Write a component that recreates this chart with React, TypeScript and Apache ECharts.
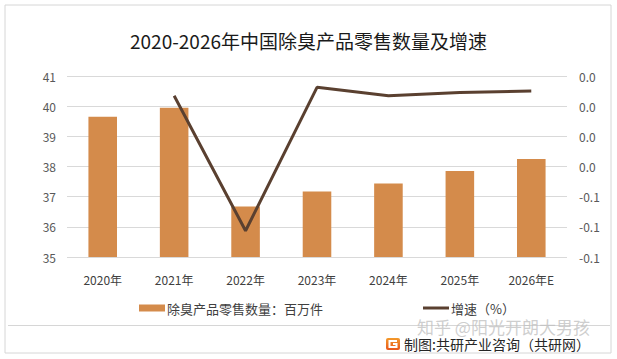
import React, { useEffect, useRef } from "react";
import * as echarts from "echarts";

const categories = ["2020年", "2021年", "2022年", "2023年", "2024年", "2025年", "2026年E"];
const salesVolume = [39.65, 39.95, 36.67, 37.17, 37.44, 37.85, 38.25];
const growthRate = [null, 0.0069, -0.0826, 0.0125, 0.0069, 0.0091, 0.01];
const rightTickLabels = ["-0.1", "-0.1", "-0.1", "0.0", "0.0", "0.0", "0.0"];

const FONT = "'Noto Sans CJK SC', 'Noto Sans', sans-serif";

export default function App() {
  const ref = useRef<HTMLDivElement>(null);
  useEffect(() => {
    if (!ref.current) return;
    const chart = echarts.init(ref.current, undefined, { renderer: "svg" });
    chart.setOption({
      animation: false,
      backgroundColor: "#ffffff",
      textStyle: { fontFamily: FONT },
      title: {
        text: "2020-2026年中国除臭产品零售数量及增速",
        left: "center",
        top: 26,
        textStyle: { fontSize: 19, fontWeight: "normal", color: "#1a1a1a", fontFamily: FONT },
      },
      grid: { left: 67, right: 50, top: 76, bottom: 102 },
      legend: {
        left: 134,
        top: 296,
        itemGap: 100,
        itemWidth: 26,
        itemHeight: 7,
        textStyle: { fontSize: 13, lineHeight: 14, color: "#404040", fontFamily: FONT, padding: [0, 0, 0, -3] },
        data: [
          { name: "除臭产品零售数量：百万件", icon: "rect" },
          { name: "增速（%）", icon: "path://M0,0 L26,0 L26,3 L0,3 Z" },
        ],
      },
      xAxis: {
        type: "category",
        data: categories,
        axisLine: { show: false },
        axisTick: { show: false },
        axisLabel: { color: "#404040", fontSize: 12, margin: 16, fontFamily: FONT },
      },
      yAxis: [
        {
          type: "value",
          min: 35,
          max: 41,
          interval: 1,
          axisLine: { show: false },
          axisTick: { show: false },
          axisLabel: { color: "#595959", fontSize: 12, margin: 11, fontFamily: FONT },
          splitLine: { lineStyle: { color: "#d9d9d9", width: 1 } },
        },
        {
          type: "value",
          min: -0.1,
          max: 0.02,
          interval: 0.02,
          axisLine: { show: false },
          axisTick: { show: false },
          splitLine: { show: false },
          axisLabel: {
            color: "#595959",
            fontSize: 12,
            margin: 12,
            fontFamily: FONT,
            formatter: (_v: number, i: number) => rightTickLabels[i] ?? "",
          },
        },
      ],
      series: [
        {
          name: "除臭产品零售数量：百万件",
          type: "bar",
          data: salesVolume,
          barWidth: "40%",
          itemStyle: { color: "#D48B4B" },
        },
        {
          name: "增速（%）",
          type: "line",
          yAxisIndex: 1,
          data: growthRate,
          symbol: "none",
          lineStyle: { color: "#5A4030", width: 3 },
          itemStyle: { color: "#5A4030" },
        },
      ],
      graphic: [
        {
          type: "rect",
          shape: { x: 5, y: 5, width: 606, height: 348 },
          style: { fill: "none", stroke: "#d6d6d6", lineWidth: 1 },
          silent: true,
        },
        {
          type: "line",
          shape: { x1: 8, y1: 325.5, x2: 610, y2: 325.5 },
          style: { stroke: "#d6d6d6", lineWidth: 1 },
          silent: true,
        },
        {
          type: "text",
          x: 417,
          y: 326,
          style: {
            text: "知乎 @阳光开朗大男孩",
            fontSize: 17,
            lineHeight: 12,
            fill: "rgba(190,190,190,0.75)",
            fontFamily: FONT,
            textVerticalAlign: "middle",
          },
          silent: true,
        },
        {
          type: "group",
          x: 386,
          y: 338,
          children: [
            {
              type: "rect",
              shape: { x: 0, y: 0, width: 14, height: 12, r: 2 },
              style: {
                fill: new echarts.graphic.LinearGradient(0, 0, 0, 1, [
                  { offset: 0, color: "#F39A2B" },
                  { offset: 1, color: "#E8561C" },
                ]),
              },
            },
            {
              type: "polyline",
              shape: { points: [[11, 3], [3.5, 3], [3.5, 9], [10.5, 9], [10.5, 6], [7, 6]] },
              style: { stroke: "#ffffff", lineWidth: 2, fill: "none" },
            },
          ],
        },
        {
          type: "text",
          x: 404,
          y: 344,
          style: {
            text: "制图:共研产业咨询（共研网）",
            fontSize: 14,
            lineHeight: 12,
            fill: "#262626",
            fontFamily: FONT,
            textVerticalAlign: "middle",
          },
        },
      ],
    });
    return () => chart.dispose();
  }, []);
  return (
    <div
      ref={ref}
      style={{ position: "fixed", left: 0, top: 0, width: 617, height: 359 }}
    />
  );
}
